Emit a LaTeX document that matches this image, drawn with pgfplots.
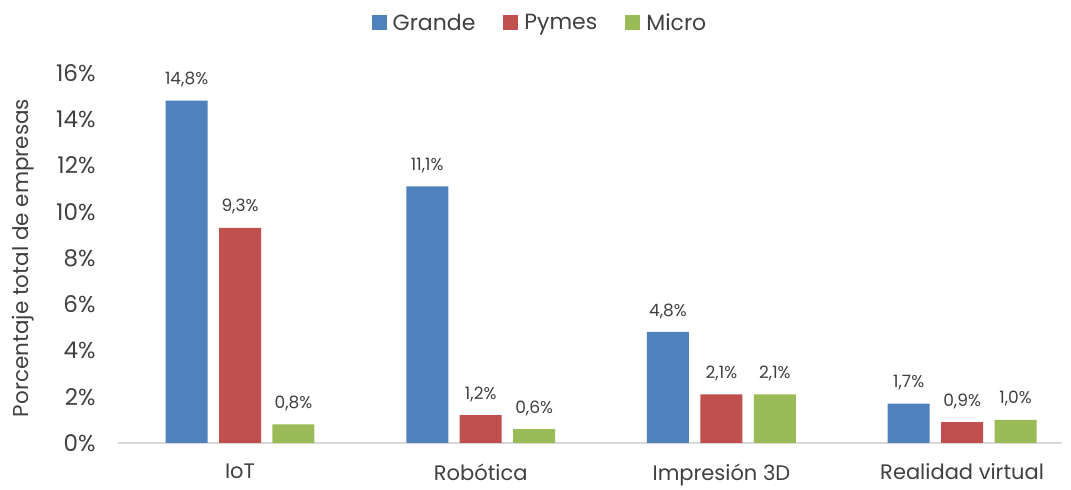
\documentclass[border=0pt]{standalone}
\usepackage{pgfplots}
\pgfplotsset{compat=1.18}
\usepackage{fontspec}
\setmainfont{Poppins}
\definecolor{cG}{HTML}{4F81BD}
\definecolor{cP}{HTML}{C0504D}
\definecolor{cM}{HTML}{9BBB59}
\definecolor{txt}{HTML}{404040}
\begin{document}
\begin{tikzpicture}
\begin{axis}[
  name=ax,
  scale only axis,
  width=944bp, height=370bp,
  xmin=-0.507, xmax=3.415,
  ymin=0, ymax=16,
  ybar,
  bar width=0.1745,
  clip=false,
  axis x line*=bottom,
  axis y line*=left,
  y axis line style={draw=none},
  x axis line style={draw=black!15, line width=1.5bp},
  tick style={draw=none},
  xtick={0,1,2,3},
  xticklabels={IoT, Robótica, Impresión 3D, Realidad virtual},
  ytick={0,2,...,16},
  yticklabel={\pgfmathprintnumber{\tick}\%},
  /pgf/number format/assume math mode=true,
  /pgf/number format/use comma,
  yticklabel style={font=\fontsize{23bp}{26bp}\selectfont, text=txt, xshift=-19bp},
  xticklabel style={font=\fontsize{21bp}{24bp}\selectfont, text=txt, yshift=-13bp},
  ylabel={Porcentaje total de empresas},
  ylabel style={font=\fontsize{21.5bp}{24bp}\selectfont, text=txt,
    at={([xshift=-95bp]rel axis cs:0,0.5)}, anchor=center},
  nodes near coords={\pgfmathprintnumber[fixed,fixed zerofill,precision=1,use comma,assume math mode=true]{\pgfplotspointmeta}\%},
  every node near coord/.append style={font=\fontsize{17bp}{20bp}\selectfont, text=txt, anchor=south, yshift=10bp},
  legend columns=3,
  legend style={draw=none, fill=none, at={(0.447,1)}, anchor=south, yshift=37bp,
    font=\fontsize{22bp}{26bp}\selectfont, text=txt,
    /tikz/every odd column/.append style={column sep=4bp},
    /tikz/every even column/.append style={column sep=26bp}},
  legend image code/.code={\fill[#1] (0bp,-7.5bp) rectangle (15bp,7.5bp);},
]
\addplot[fill=cG, draw=none, bar shift=-0.222] coordinates {(0,14.8) (1,11.1) (2,4.8) (3,1.7)};
\addplot[fill=cP, draw=none, bar shift=0] coordinates {(0,9.3) (1,1.2) (2,2.1) (3,0.9)};
\addplot[fill=cM, draw=none, bar shift=0.222] coordinates {(0,0.8) (1,0.6) (2,2.1) (3,1.0)};
\legend{Grande, Pymes, Micro}
\coordinate (ll) at (rel axis cs:0,0);
\coordinate (ur) at (rel axis cs:1,1);
\end{axis}
\path (ll) ++(-118bp,-42bp) coordinate (a);
\path (ur) ++(9bp,73bp) coordinate (b);
\end{tikzpicture}
\end{document}
